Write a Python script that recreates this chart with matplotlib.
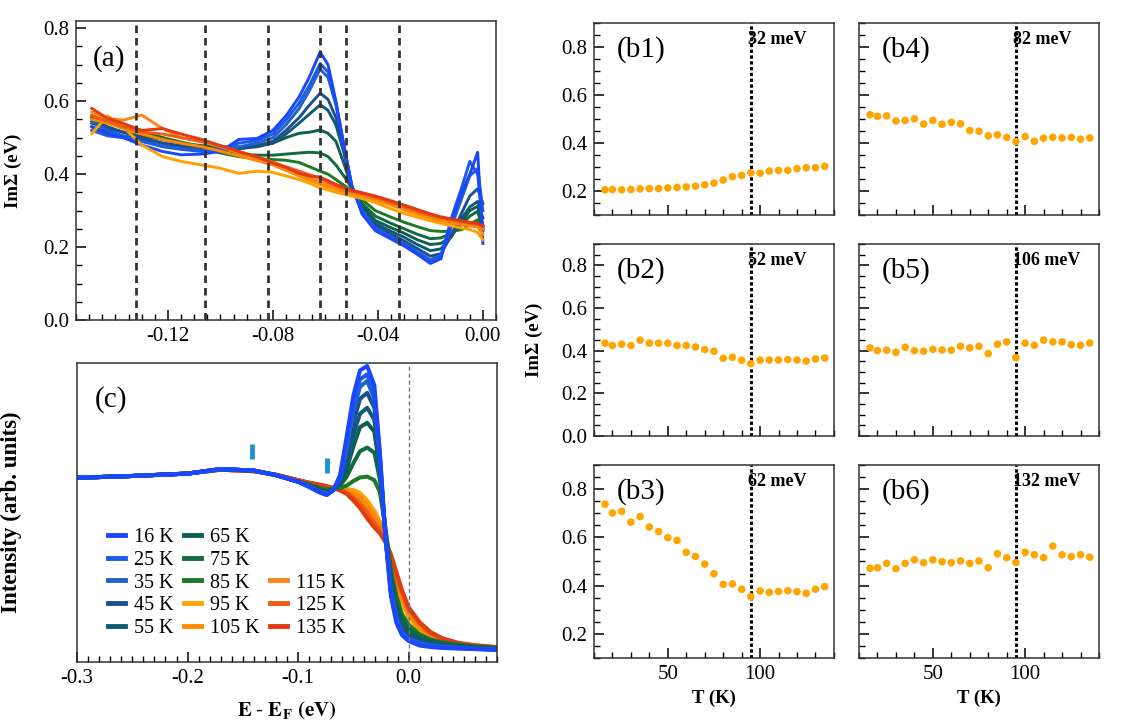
import matplotlib
matplotlib.use("Agg")
import matplotlib.pyplot as plt
from matplotlib.lines import Line2D
from matplotlib.ticker import MultipleLocator, FormatStrFormatter

plt.rcParams['font.family'] = 'Liberation Serif'
plt.rcParams['mathtext.fontset'] = 'stix'
plt.rcParams['axes.unicode_minus'] = False

# ---------------- data ----------------
temps = ['16 K', '25 K', '35 K', '45 K', '55 K', '65 K', '75 K', '85 K',
         '95 K', '105 K', '115 K', '125 K', '135 K']
colors = ['#1a46ff', '#1c5ae8', '#2262cc', '#1b4f92', '#0f5a74', '#0f5e52',
          '#126b3e', '#1c7a26', '#ffa200', '#ff8a00', '#f9861a', '#ee5c12', '#e03c12']

# panel (a): Im Sigma vs energy
e_a = [-0.149, -0.143, -0.137, -0.130, -0.122, -0.115, -0.107, -0.100, -0.093, -0.086,
       -0.080, -0.075, -0.070, -0.066, -0.062, -0.059, -0.056, -0.053, -0.050, -0.046,
       -0.041, -0.035, -0.030, -0.025, -0.020, -0.016, -0.012, -0.008, -0.005, -0.002, 0.000]
im_16 = [0.530, 0.510, 0.500, 0.480, 0.462, 0.453, 0.455, 0.462, 0.495, 0.498, 0.520, 0.560, 0.612,
         0.668, 0.735, 0.700, 0.600, 0.480, 0.370, 0.290, 0.245, 0.222, 0.203, 0.180, 0.155, 0.168,
         0.270, 0.350, 0.400, 0.460, 0.210]
im_25 = [0.545, 0.520, 0.505, 0.490, 0.475, 0.468, 0.462, 0.465, 0.485, 0.492, 0.510, 0.548, 0.595,
         0.645, 0.703, 0.680, 0.595, 0.480, 0.370, 0.295, 0.250, 0.225, 0.206, 0.183, 0.160, 0.172,
         0.280, 0.365, 0.435, 0.400, 0.250]
im_35 = [0.520, 0.505, 0.500, 0.490, 0.478, 0.470, 0.465, 0.467, 0.475, 0.485, 0.500, 0.535, 0.580,
         0.630, 0.688, 0.665, 0.590, 0.478, 0.368, 0.298, 0.253, 0.228, 0.210, 0.188, 0.165, 0.178,
         0.255, 0.335, 0.395, 0.415, 0.300]
im_45 = [0.550, 0.530, 0.515, 0.500, 0.485, 0.475, 0.468, 0.465, 0.470, 0.478, 0.490, 0.520, 0.555,
         0.590, 0.622, 0.605, 0.555, 0.465, 0.365, 0.302, 0.258, 0.235, 0.217, 0.196, 0.175, 0.182,
         0.232, 0.295, 0.340, 0.360, 0.320]
im_55 = [0.530, 0.515, 0.505, 0.495, 0.485, 0.478, 0.470, 0.468, 0.470, 0.475, 0.485, 0.510, 0.540,
         0.565, 0.590, 0.575, 0.535, 0.460, 0.365, 0.307, 0.265, 0.243, 0.227, 0.207, 0.190, 0.195,
         0.228, 0.280, 0.310, 0.325, 0.280]
im_65 = [0.540, 0.525, 0.515, 0.505, 0.495, 0.485, 0.478, 0.475, 0.475, 0.478, 0.485, 0.500, 0.512,
         0.515, 0.521, 0.512, 0.490, 0.430, 0.365, 0.313, 0.273, 0.253, 0.238, 0.220, 0.207, 0.210,
         0.230, 0.270, 0.300, 0.312, 0.260]
im_75 = [0.560, 0.545, 0.530, 0.515, 0.500, 0.488, 0.475, 0.462, 0.455, 0.452, 0.452, 0.455, 0.458,
         0.460, 0.458, 0.448, 0.425, 0.395, 0.362, 0.320, 0.285, 0.265, 0.250, 0.235, 0.223, 0.225,
         0.238, 0.262, 0.285, 0.298, 0.250]
im_85 = [0.555, 0.540, 0.528, 0.515, 0.500, 0.485, 0.472, 0.458, 0.448, 0.442, 0.440, 0.438, 0.432,
         0.420, 0.408, 0.400, 0.385, 0.370, 0.355, 0.330, 0.300, 0.282, 0.268, 0.256, 0.245, 0.243,
         0.243, 0.248, 0.262, 0.275, 0.245]
im_95 = [0.511, 0.560, 0.530, 0.480, 0.448, 0.435, 0.425, 0.416, 0.402, 0.408, 0.405, 0.395, 0.385,
         0.375, 0.362, 0.357, 0.350, 0.345, 0.340, 0.333, 0.322, 0.305, 0.292, 0.282, 0.272, 0.265,
         0.258, 0.252, 0.248, 0.240, 0.220]
im_105 = [0.550, 0.540, 0.525, 0.510, 0.495, 0.485, 0.475, 0.463, 0.450, 0.437, 0.425, 0.410, 0.395,
          0.383, 0.372, 0.365, 0.358, 0.352, 0.347, 0.340, 0.330, 0.315, 0.302, 0.290, 0.280, 0.272,
          0.266, 0.262, 0.258, 0.255, 0.235]
im_115 = [0.570, 0.553, 0.548, 0.562, 0.525, 0.500, 0.488, 0.475, 0.458, 0.442, 0.430, 0.417, 0.403,
          0.390, 0.378, 0.371, 0.364, 0.357, 0.350, 0.343, 0.333, 0.318, 0.306, 0.295, 0.284, 0.277,
          0.270, 0.265, 0.262, 0.258, 0.250]
im_125 = [0.560, 0.545, 0.530, 0.515, 0.510, 0.500, 0.490, 0.478, 0.462, 0.447, 0.433, 0.420, 0.408,
          0.398, 0.388, 0.378, 0.368, 0.360, 0.353, 0.346, 0.336, 0.322, 0.310, 0.298, 0.287, 0.280,
          0.274, 0.269, 0.265, 0.262, 0.255]
im_135 = [0.580, 0.553, 0.539, 0.520, 0.525, 0.510, 0.495, 0.478, 0.462, 0.447, 0.430, 0.418, 0.402,
          0.395, 0.392, 0.382, 0.372, 0.364, 0.356, 0.349, 0.340, 0.327, 0.315, 0.303, 0.291, 0.283,
          0.277, 0.272, 0.268, 0.265, 0.258]
im_curves = [im_16, im_25, im_35, im_45, im_55, im_65, im_75, im_85,
             im_95, im_105, im_115, im_125, im_135]
mode_energies = [-0.132, -0.106, -0.082, -0.062, -0.052, -0.032]

# panel (c): EDCs
e_c = [-0.300, -0.250, -0.200, -0.170, -0.140, -0.120, -0.100, -0.090, -0.080, -0.074, -0.068,
       -0.062, -0.056, -0.050, -0.044, -0.0375, -0.031, -0.026, -0.021, -0.016, -0.011, -0.006,
       0.000, 0.010, 0.020, 0.030, 0.045, 0.060, 0.080]
edc_16 = [0.616, 0.622, 0.630, 0.645, 0.640, 0.625, 0.603, 0.585, 0.566, 0.558, 0.575, 0.625, 0.755,
          0.890, 0.975, 0.990, 0.925, 0.700, 0.420, 0.220, 0.130, 0.090, 0.070, 0.055, 0.050, 0.047,
          0.045, 0.043, 0.040]
edc_25 = [0.616, 0.622, 0.630, 0.645, 0.640, 0.625, 0.603, 0.586, 0.567, 0.560, 0.575, 0.620, 0.735,
          0.862, 0.945, 0.962, 0.900, 0.690, 0.420, 0.228, 0.138, 0.095, 0.074, 0.060, 0.053, 0.049,
          0.046, 0.044, 0.041]
edc_35 = [0.616, 0.622, 0.630, 0.645, 0.640, 0.625, 0.603, 0.587, 0.569, 0.562, 0.575, 0.615, 0.715,
          0.840, 0.920, 0.940, 0.880, 0.680, 0.420, 0.236, 0.146, 0.100, 0.078, 0.063, 0.055, 0.051,
          0.047, 0.045, 0.042]
edc_45 = [0.616, 0.622, 0.630, 0.645, 0.640, 0.625, 0.603, 0.588, 0.571, 0.564, 0.575, 0.608, 0.690,
          0.800, 0.880, 0.900, 0.850, 0.670, 0.420, 0.246, 0.156, 0.108, 0.084, 0.067, 0.058, 0.053,
          0.049, 0.046, 0.043]
edc_55 = [0.616, 0.622, 0.630, 0.645, 0.640, 0.625, 0.603, 0.589, 0.573, 0.567, 0.576, 0.602, 0.665,
          0.760, 0.830, 0.850, 0.810, 0.655, 0.428, 0.258, 0.167, 0.117, 0.090, 0.072, 0.062, 0.056,
          0.051, 0.047, 0.044]
edc_65 = [0.616, 0.622, 0.630, 0.645, 0.640, 0.625, 0.603, 0.590, 0.575, 0.570, 0.577, 0.596, 0.645,
          0.720, 0.785, 0.800, 0.770, 0.640, 0.430, 0.270, 0.178, 0.127, 0.097, 0.077, 0.066, 0.059,
          0.053, 0.048, 0.045]
edc_75 = [0.616, 0.622, 0.630, 0.645, 0.640, 0.625, 0.603, 0.592, 0.578, 0.573, 0.578, 0.590, 0.620,
          0.665, 0.705, 0.717, 0.700, 0.610, 0.440, 0.290, 0.200, 0.145, 0.110, 0.085, 0.071, 0.063,
          0.056, 0.050, 0.046]
edc_85 = [0.616, 0.622, 0.630, 0.645, 0.640, 0.625, 0.603, 0.594, 0.581, 0.577, 0.580, 0.582, 0.590,
          0.605, 0.617, 0.620, 0.608, 0.568, 0.450, 0.310, 0.220, 0.160, 0.125, 0.092, 0.075, 0.066,
          0.058, 0.052, 0.047]
edc_95 = [0.616, 0.622, 0.630, 0.643, 0.638, 0.626, 0.608, 0.598, 0.590, 0.585, 0.583, 0.580, 0.578,
          0.575, 0.565, 0.540, 0.505, 0.470, 0.420, 0.340, 0.260, 0.200, 0.150, 0.105, 0.080, 0.066,
          0.055, 0.050, 0.046]
edc_105 = [0.616, 0.622, 0.630, 0.643, 0.638, 0.626, 0.608, 0.598, 0.590, 0.585, 0.582, 0.578, 0.574,
           0.565, 0.550, 0.525, 0.490, 0.460, 0.415, 0.345, 0.270, 0.210, 0.160, 0.112, 0.085, 0.070,
           0.058, 0.052, 0.047]
edc_115 = [0.616, 0.622, 0.630, 0.643, 0.638, 0.626, 0.608, 0.598, 0.591, 0.586, 0.582, 0.577, 0.570,
           0.560, 0.545, 0.515, 0.480, 0.450, 0.410, 0.350, 0.280, 0.220, 0.168, 0.120, 0.090, 0.073,
           0.060, 0.053, 0.048]
edc_125 = [0.616, 0.622, 0.630, 0.643, 0.638, 0.626, 0.608, 0.599, 0.592, 0.587, 0.582, 0.575, 0.566,
           0.550, 0.530, 0.500, 0.465, 0.440, 0.405, 0.355, 0.290, 0.230, 0.175, 0.127, 0.095, 0.077,
           0.062, 0.055, 0.049]
edc_135 = [0.616, 0.622, 0.630, 0.643, 0.638, 0.626, 0.608, 0.600, 0.593, 0.588, 0.582, 0.573, 0.562,
           0.540, 0.515, 0.480, 0.450, 0.430, 0.400, 0.360, 0.300, 0.240, 0.183, 0.133, 0.100, 0.080,
           0.064, 0.056, 0.050]
edc_curves = [edc_16, edc_25, edc_35, edc_45, edc_55, edc_65, edc_75, edc_85,
              edc_95, edc_105, edc_115, edc_125, edc_135]
marker_e = [-0.142, -0.074]
marker_lo = [0.680, 0.633]
marker_hi = [0.728, 0.682]

# panels (b1)-(b6): Im Sigma vs temperature at fixed energies
temp_k = [16, 20, 25, 30, 35, 40, 45, 50, 55, 60, 65, 70, 75, 80, 85, 90, 95,
          100, 105, 110, 115, 120, 125, 130, 135]
b1 = [0.205, 0.206, 0.205, 0.206, 0.209, 0.210, 0.210, 0.213, 0.215, 0.217, 0.220, 0.226, 0.233,
      0.246, 0.260, 0.265, 0.276, 0.274, 0.283, 0.286, 0.286, 0.293, 0.297, 0.297, 0.303]
b2 = [0.435, 0.424, 0.430, 0.424, 0.449, 0.435, 0.435, 0.435, 0.424, 0.424, 0.417, 0.405, 0.397,
      0.364, 0.369, 0.355, 0.339, 0.355, 0.356, 0.356, 0.358, 0.356, 0.351, 0.361, 0.365]
b3 = [0.737, 0.701, 0.708, 0.663, 0.686, 0.643, 0.624, 0.599, 0.587, 0.538, 0.521, 0.489, 0.449,
      0.405, 0.407, 0.385, 0.355, 0.378, 0.372, 0.376, 0.379, 0.375, 0.368, 0.385, 0.396]
b4 = [0.518, 0.511, 0.513, 0.492, 0.494, 0.501, 0.479, 0.494, 0.478, 0.486, 0.480, 0.452, 0.449,
      0.430, 0.434, 0.423, 0.406, 0.427, 0.407, 0.420, 0.424, 0.421, 0.423, 0.416, 0.421]
b5 = [0.413, 0.400, 0.402, 0.392, 0.416, 0.400, 0.397, 0.406, 0.403, 0.402, 0.420, 0.413, 0.420,
      0.386, 0.430, 0.441, 0.367, 0.435, 0.425, 0.449, 0.441, 0.441, 0.428, 0.425, 0.436]
b6 = [0.472, 0.474, 0.492, 0.470, 0.492, 0.507, 0.495, 0.507, 0.499, 0.495, 0.502, 0.492, 0.502,
      0.474, 0.532, 0.516, 0.496, 0.538, 0.528, 0.516, 0.564, 0.528, 0.520, 0.528, 0.518]
b_series = [b1, b2, b3, b4, b5, b6]
b_names = ['(b1)', '(b2)', '(b3)', '(b4)', '(b5)', '(b6)']
b_energy = ['32 meV', '52 meV', '62 meV', '82 meV', '106 meV', '132 meV']
b_ylim = [(0.1, 0.9), (0.0, 0.9), (0.1, 0.9), (0.1, 0.9), (0.0, 0.9), (0.1, 0.9)]
t_c = 95


def style_axes(ax):
    ax.tick_params(which='both', direction='in', top=False, right=False,
                   labelsize=15, pad=5)
    ax.tick_params(which='major', length=7, width=1.1)
    ax.tick_params(which='minor', length=4, width=1.0)
    for s in ax.spines.values():
        s.set_linewidth(1.1)
        s.set_color('#333333')


fig = plt.figure(figsize=(11.23, 7.23), dpi=100)

# ---------------- (a) ----------------
ax_a = fig.add_axes([0.0677, 0.5574, 0.374, 0.4136])
for i in list(range(7, -1, -1)) + list(range(8, 13)):
    ax_a.plot(e_a, im_curves[i], color=colors[i], lw=2.1, solid_joinstyle='round')
for e in mode_energies:
    ax_a.axvline(e, color='#333333', lw=2, linestyle=(0, (2.7, 1.8)))
ax_a.set_xlim(-0.155, 0.005)
ax_a.set_ylim(0, 0.82)
ax_a.xaxis.set_major_locator(MultipleLocator(0.04))
ax_a.xaxis.set_minor_locator(MultipleLocator(0.005))
ax_a.xaxis.set_major_formatter(FormatStrFormatter('%.2f'))
ax_a.yaxis.set_major_locator(MultipleLocator(0.2))
ax_a.yaxis.set_minor_locator(MultipleLocator(0.05))
ax_a.yaxis.set_major_formatter(FormatStrFormatter('%.1f'))
style_axes(ax_a)
ax_a.set_ylabel('ImΣ (eV)', fontsize=13.5, fontweight='bold')
ax_a.yaxis.set_label_coords(-0.129, 0.5)
ax_a.text(0.04, 0.876, '(a)', transform=ax_a.transAxes, fontsize=21, va='center')

# ---------------- (c) ----------------
ax_c = fig.add_axes([0.0686, 0.0844, 0.374, 0.4136])
for i in list(range(8, 13)) + list(range(7, -1, -1)):
    ax_c.plot(e_c, edc_curves[i], color=colors[i], lw=2.9, solid_joinstyle='round')
ax_c.axvline(0.0, color='#777777', lw=1.0, linestyle=(0, (3, 2)))
ax_c.vlines(marker_e, marker_lo, marker_hi, color='#1e90d8', lw=3.5)
ax_c.set_xlim(-0.3, 0.08)
ax_c.set_ylim(0, 1.0)
ax_c.xaxis.set_major_locator(MultipleLocator(0.1))
ax_c.xaxis.set_minor_locator(MultipleLocator(0.01))
ax_c.xaxis.set_major_formatter(FormatStrFormatter('%.1f'))
ax_c.set_yticks([])
style_axes(ax_c)
ax_c.set_ylabel('Intensity (arb. units)', fontsize=16.5, fontweight='bold')
ax_c.yaxis.set_label_coords(-0.131, 0.5)
ax_c.set_xlabel(r'$\mathbf{E\ \text{-}\ E_F\ (eV)}$', fontsize=15)
ax_c.xaxis.set_label_coords(0.5, -0.127)
ax_c.text(0.043, 0.876, '(c)', transform=ax_c.transAxes, fontsize=21, va='center')

handles = [Line2D([], [], color=colors[i], lw=3.5) for i in range(10)]
labels = temps[:10]
blank = Line2D([], [], color='none')
handles += [blank, blank] + [Line2D([], [], color=colors[i], lw=3.5) for i in range(10, 13)]
labels += ['', ''] + temps[10:]
ax_c.legend(handles, labels, ncol=3, frameon=False, fontsize=14.5,
            loc='upper left', bbox_to_anchor=(0.055, 0.475), handlelength=0.85,
            handletextpad=0.45, columnspacing=0.5, labelspacing=0.18,
            borderaxespad=0)

# ---------------- (b1)-(b6) ----------------
col_left = [0.5289, 0.7649]
row_bottom = [0.7026, 0.397, 0.0899]
row_height = [0.2656, 0.2656, 0.267]
for k in range(6):
    col = k // 3
    row = k % 3
    ax = fig.add_axes([col_left[col], row_bottom[row], 0.2137, row_height[row]])
    ax.scatter(temp_k, b_series[k], s=30, color='#ffa500', edgecolors='none', zorder=3)
    ax.axvline(t_c, color='black', lw=2.2, linestyle=(0, (1.1, 0.8)))
    ax.set_xlim(10, 140)
    ax.set_ylim(*b_ylim[k])
    ax.xaxis.set_major_locator(MultipleLocator(50))
    ax.xaxis.set_minor_locator(MultipleLocator(10))
    ax.yaxis.set_major_locator(MultipleLocator(0.2))
    ax.yaxis.set_minor_locator(MultipleLocator(0.05))
    ax.yaxis.set_major_formatter(FormatStrFormatter('%.1f'))
    style_axes(ax)
    if col == 1:
        ax.tick_params(labelleft=False)
    if row < 2:
        ax.tick_params(labelbottom=False)
    else:
        ax.set_xlabel('T (K)', fontsize=13.5, fontweight='bold')
        ax.xaxis.set_label_coords(0.5, -0.166)
    if k == 1:
        ax.set_ylabel('ImΣ (eV)', fontsize=13.5, fontweight='bold')
        ax.yaxis.set_label_coords(-0.2125, 0.5)
    ax.text(0.096, 0.86, b_names[k], transform=ax.transAxes, fontsize=21, va='center')
    ax.text(93.5, 0.915, b_energy[k], transform=ax.get_xaxis_transform(),
            fontsize=13, fontweight='bold', va='center', ha='left', zorder=4)

fig.savefig('out.png', dpi=100)
